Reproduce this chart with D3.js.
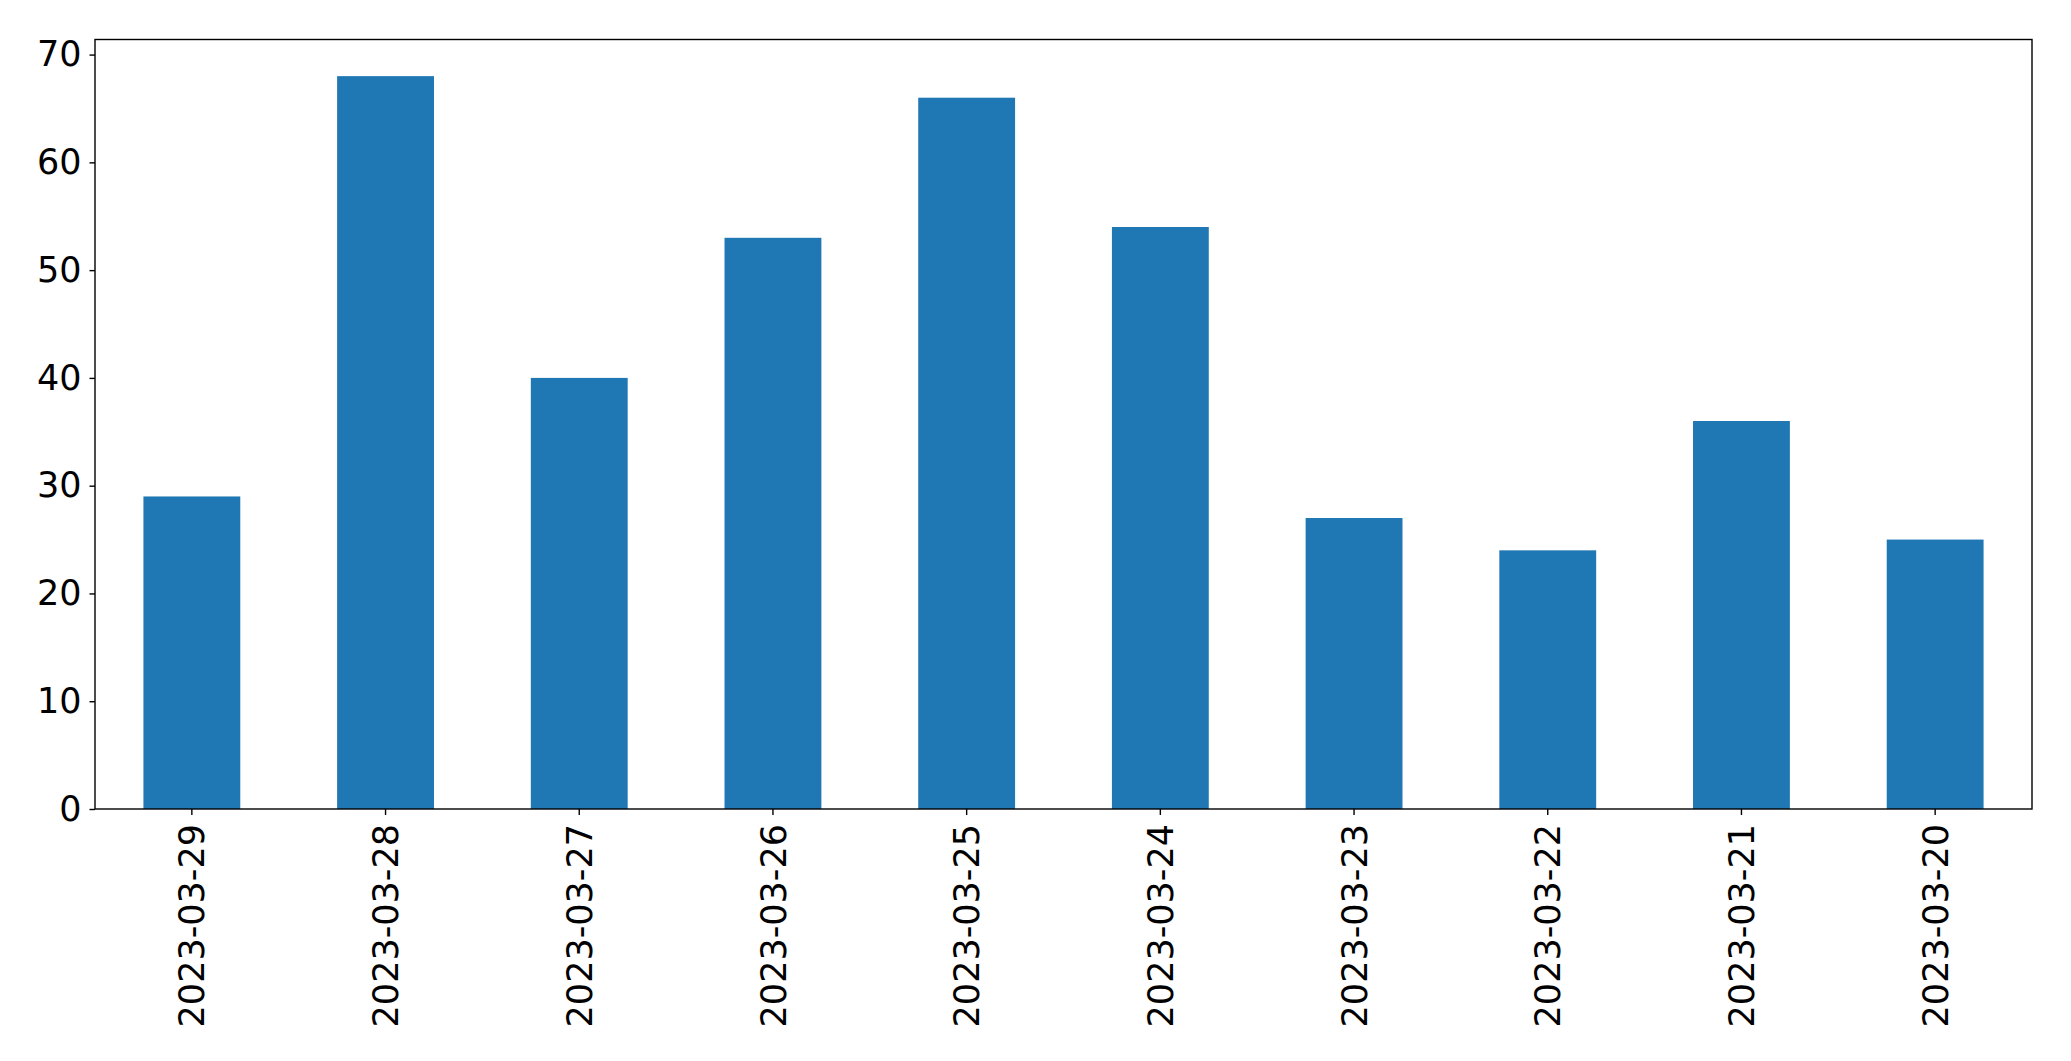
<!DOCTYPE html>
<html>
<head>
<meta charset="utf-8">
<script src="https://cdn.jsdelivr.net/npm/d3@7"></script>
<style>
  body { margin: 0; background: #fff; }
  text { font-family: "DejaVu Sans", sans-serif; }
</style>
</head>
<body>
<div id="vis"></div>
<script>
var dates = ["2023-03-29", "2023-03-28", "2023-03-27", "2023-03-26", "2023-03-25",
             "2023-03-24", "2023-03-23", "2023-03-22", "2023-03-21", "2023-03-20"];
var counts = [29, 68, 40, 53, 66, 54, 27, 24, 36, 25];
var yTicks = [0, 10, 20, 30, 40, 50, 60, 70];

var margin = { top: 39.5, right: 39, bottom: 252, left: 95 },
    width = 2071 - margin.left - margin.right,
    height = 1061 - margin.top - margin.bottom;

var svg = d3.select("#vis")
    .append("svg")
    .attr("width", 2071)
    .attr("height", 1061)
    .append("g")
    .attr("transform", "translate(" + margin.left + "," + margin.top + ")");

var x = d3.scaleBand()
    .domain(dates)
    .range([0, width])
    .paddingInner(0.5)
    .paddingOuter(0.25);

var y = d3.scaleLinear()
    .domain([0, d3.max(counts) * 1.05])
    .range([height, 0]);

svg.selectAll(".bar")
    .data(dates)
    .enter()
    .append("rect")
    .attr("class", "bar")
    .attr("x", d => x(d))
    .attr("width", x.bandwidth())
    .attr("y", (d, i) => y(counts[i]))
    .attr("height", (d, i) => height - y(counts[i]))
    .attr("fill", "#1f77b4");

// frame
svg.append("rect")
    .attr("width", width)
    .attr("height", height)
    .attr("fill", "none")
    .attr("stroke", "#000")
    .attr("stroke-width", 1.4);

var yAxis = d3.axisLeft(y).tickValues(yTicks).tickSize(5.5).tickPadding(8);
var gy = svg.append("g").call(yAxis);
gy.select(".domain").remove();
gy.selectAll(".tick line").attr("stroke-width", 1.4);
gy.selectAll("text").attr("font-size", 35).attr("fill", "#000")
    .attr("font-family", "DejaVu Sans, sans-serif");

var xAxis = d3.axisBottom(x).tickSize(6).tickPadding(0);
var gx = svg.append("g")
    .attr("transform", "translate(0," + height + ")")
    .call(xAxis);
gx.select(".domain").remove();
gx.selectAll(".tick line").attr("stroke-width", 1.4);
gx.selectAll("text")
    .attr("font-size", 35)
    .attr("fill", "#000")
    .attr("font-family", "DejaVu Sans, sans-serif")
    .attr("text-anchor", "end")
    .attr("transform", "translate(0,15) rotate(-90)")
    .attr("x", 0)
    .attr("y", 0)
    .attr("dy", "0.36em");
</script>
</body>
</html>
